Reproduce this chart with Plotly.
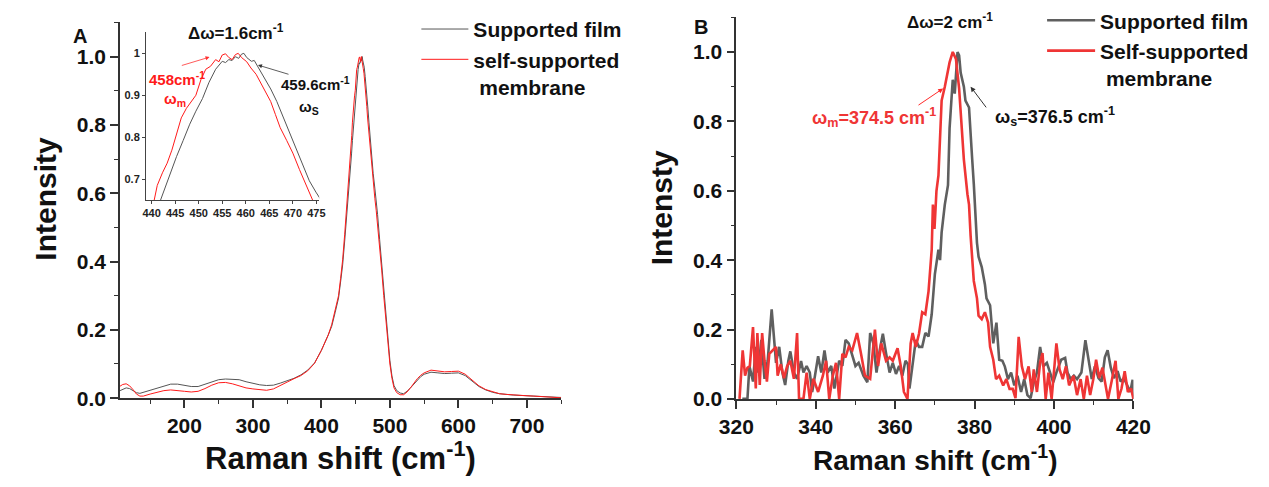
import plotly.graph_objects as go

W, H = 1269, 487

# ---------------- Panel A data (Raman spectra, full range) ----------------
a_sup_x = [106, 110, 115, 120, 125, 130, 135, 140, 150, 160, 170, 180, 190, 200, 210, 220, 230, 240,
           250, 260, 270, 280, 290, 300, 310, 320, 330, 340, 350, 360, 370, 380, 390, 400, 410, 415,
           420, 425, 428, 431, 434, 437, 440, 441.9, 443.0, 444.0, 445.3, 446.7, 448.1, 449.4, 450.8,
           452.2, 453.6, 455.0, 455.7, 456.4, 457.1, 457.8, 458.5, 459.1, 459.6, 460.2, 461.2, 461.8,
           462.5, 463.9, 465.3, 466.6, 468.0, 469.4, 470.8, 472.1, 473.5, 474.9, 475.6, 478, 480, 482,
           485, 488, 491, 494, 497, 500, 503, 506, 510, 515, 520, 525, 530, 535, 540, 545, 550, 560,
           570, 580, 590, 600, 610, 620, 630, 640, 650, 660, 670, 680, 690, 700, 710, 720, 730, 740, 750]
a_sup_y = [0.022, 0.026, 0.030, 0.028, 0.022, 0.016, 0.014, 0.017, 0.024, 0.031, 0.037, 0.041, 0.041,
           0.037, 0.034, 0.034, 0.040, 0.048, 0.054, 0.056, 0.055, 0.054, 0.048, 0.043, 0.039, 0.037,
           0.038, 0.044, 0.050, 0.058, 0.068, 0.082, 0.103, 0.140, 0.185, 0.210, 0.250, 0.293, 0.340,
           0.390, 0.460, 0.530, 0.600, 0.650, 0.685, 0.715, 0.754, 0.792, 0.831, 0.862, 0.892, 0.931,
           0.962, 0.981, 0.978, 0.985, 0.983, 0.992, 0.988, 0.998, 1.000, 0.990, 0.981, 0.983, 0.969,
           0.942, 0.915, 0.885, 0.846, 0.808, 0.769, 0.731, 0.696, 0.669, 0.658, 0.615, 0.578, 0.538,
           0.465, 0.390, 0.315, 0.240, 0.170, 0.110, 0.065, 0.037, 0.022, 0.015, 0.013, 0.020, 0.030,
           0.042, 0.053, 0.063, 0.070, 0.076, 0.074, 0.072, 0.073, 0.074, 0.066, 0.050, 0.034, 0.024,
           0.017, 0.013, 0.010, 0.009, 0.008, 0.007, 0.006, 0.005, 0.004, 0.003, 0.002]

a_mem_x = [106, 110, 115, 120, 125, 130, 135, 140, 150, 160, 170, 180, 190, 200, 210, 220, 230, 240,
           250, 260, 270, 280, 290, 300, 310, 320, 330, 340, 350, 360, 370, 380, 390, 400, 410, 415,
           420, 425, 428, 431, 434, 437, 440, 440.55, 441.2, 442.3, 443.3, 444.3, 445.3, 446.3, 447.4,
           448.4, 449.4, 450.5, 451.5, 452.5, 453.6, 454.3, 455.0, 455.7, 456.4, 457.1, 457.8, 458.4,
           459.1, 460.2, 461.1, 462.2, 463.2, 464.2, 465.3, 466.3, 467.3, 468.7, 470.0, 471.4, 472.8,
           474.2, 475.5, 478, 480, 482, 485, 488, 491, 494, 497, 500, 503, 506, 510, 515, 520, 525,
           530, 535, 540, 545, 550, 560, 570, 580, 590, 600, 610, 620, 630, 640, 650, 660, 670, 680,
           690, 700, 710, 720, 730, 740, 750]
a_mem_y = [0.035, 0.040, 0.042, 0.036, 0.025, 0.012, 0.006, 0.006, 0.012, 0.018, 0.022, 0.024, 0.023,
           0.020, 0.018, 0.020, 0.028, 0.038, 0.045, 0.046, 0.042, 0.036, 0.030, 0.027, 0.024, 0.023,
           0.027, 0.036, 0.047, 0.057, 0.066, 0.080, 0.102, 0.140, 0.185, 0.215, 0.255, 0.300, 0.350,
           0.405, 0.480, 0.560, 0.640, 0.650, 0.685, 0.715, 0.738, 0.769, 0.808, 0.846, 0.869, 0.885,
           0.900, 0.938, 0.962, 0.969, 0.985, 0.980, 0.996, 0.999, 0.990, 0.985, 0.997, 1.000, 0.990,
           0.980, 0.965, 0.950, 0.930, 0.908, 0.885, 0.854, 0.823, 0.792, 0.762, 0.723, 0.685, 0.650,
           0.625, 0.585, 0.550, 0.510, 0.445, 0.375, 0.300, 0.230, 0.160, 0.100, 0.058, 0.030, 0.016,
           0.010, 0.010, 0.018, 0.030, 0.045, 0.057, 0.067, 0.074, 0.082, 0.079, 0.077, 0.078, 0.079,
           0.070, 0.053, 0.036, 0.025, 0.018, 0.013, 0.011, 0.009, 0.009, 0.007, 0.006, 0.005, 0.004,
           0.003, 0.001]

# ---------------- Panel B data ----------------
b_sup_x = [321.5, 322.8, 323.3, 324.2, 324.9, 325.5, 326.3, 327.1, 327.9, 328.9, 329.6, 330.0, 330.8,
           331.6, 332.3, 333.1, 333.6, 334.5, 335.3, 336.3, 336.9, 337.7, 338.5, 339.1, 339.8, 340.6,
           341.4, 342.2, 343.0, 343.9, 344.7, 345.3, 345.9, 346.7, 347.5, 348.3, 349.2, 350.0, 350.8,
           352.0, 353.0, 353.7, 354.5, 355.3, 356.1, 356.9, 357.7, 358.6, 359.4, 360.2, 361.0, 361.8,
           362.6, 363.2, 363.6, 364.4, 365.2, 366.0, 366.8, 367.6, 368.4, 369.2, 369.6, 370.0, 370.9,
           371.3, 371.7, 372.5, 373.3, 373.7, 374.1, 374.5, 375.0, 375.7, 376.1, 376.5, 377.3, 377.7,
           378.6, 379.0, 379.4, 379.8, 380.2, 380.6, 381.0, 381.8, 382.6, 383.0, 383.9, 384.7, 385.5,
           386.2, 387.0, 387.6, 388.4, 389.2, 390.0, 390.8, 391.7, 392.5, 393.3, 394.1, 394.9, 395.7,
           396.5, 397.3, 398.2, 399.0, 399.8, 400.6, 401.8, 402.8, 403.4, 404.2, 405.0, 405.8, 406.9,
           407.9, 408.7, 409.5, 410.3, 411.2, 412.0, 412.8, 413.5, 414.3, 415.1, 416.0, 416.8, 417.6,
           418.4, 419.2, 419.8, 420.0]
b_sup_y = [0.000, 0.000, 0.095, 0.050, 0.150, 0.076, 0.170, 0.058, 0.110, 0.258, 0.160, 0.104, 0.150,
           0.076, 0.040, 0.110, 0.137, 0.076, 0.058, 0.109, 0.076, 0.095, 0.076, 0.020, 0.067, 0.123,
           0.076, 0.140, 0.076, 0.095, 0.030, 0.076, 0.110, 0.095, 0.170, 0.160, 0.123, 0.095, 0.104,
           0.067, 0.048, 0.190, 0.160, 0.076, 0.140, 0.188, 0.132, 0.076, 0.104, 0.072, 0.095, 0.067,
           0.110, 0.100, 0.030, 0.100, 0.170, 0.150, 0.150, 0.190, 0.180, 0.244, 0.300, 0.360, 0.430,
           0.400, 0.480, 0.560, 0.616, 0.780, 0.850, 0.920, 0.880, 1.000, 0.990, 0.940, 0.900, 0.860,
           0.840, 0.750, 0.690, 0.620, 0.520, 0.450, 0.410, 0.380, 0.330, 0.290, 0.270, 0.160, 0.220,
           0.113, 0.110, 0.094, 0.057, 0.076, 0.039, 0.067, 0.020, 0.057, 0.011, 0.002, 0.048, 0.076,
           0.150, 0.094, 0.104, 0.076, 0.048, 0.076, 0.113, 0.118, 0.076, 0.057, 0.067, 0.057, 0.076,
           0.169, 0.113, 0.057, 0.094, 0.060, 0.050, 0.120, 0.140, 0.090, 0.060, 0.080, 0.050, 0.060,
           0.040, 0.020, 0.055, 0.000]

b_mem_x = [320.8, 321.6, 322.2, 322.8, 323.4, 324.2, 324.9, 325.3, 325.9, 326.5, 327.1, 327.7, 328.3,
           329.2, 330.0, 330.4, 331.2, 332.0, 332.8, 333.6, 334.5, 335.3, 335.8, 336.9, 337.7, 338.5,
           339.4, 340.6, 341.8, 342.6, 343.4, 344.3, 345.1, 345.9, 346.7, 347.5, 348.3, 349.2, 350.4,
           351.4, 352.4, 353.7, 354.9, 355.7, 356.5, 357.7, 358.6, 359.4, 360.6, 361.4, 362.2, 363.1,
           363.9, 364.4, 365.2, 366.0, 366.8, 367.6, 368.4, 369.2, 369.5, 369.9, 370.4, 370.9, 371.3,
           371.7, 372.5, 373.7, 374.5, 375.3, 376.1, 376.5, 377.3, 378.2, 378.6, 379.0, 379.4, 379.8,
           380.6, 381.0, 381.8, 382.6, 383.4, 383.9, 384.7, 385.4, 386.2, 387.2, 388.0, 388.8, 389.6,
           390.3, 391.1, 391.9, 392.7, 393.6, 394.4, 394.9, 395.7, 396.5, 397.1, 397.9, 398.6, 399.4,
           400.6, 401.4, 402.2, 403.0, 403.8, 404.9, 405.8, 406.7, 407.5, 408.3, 409.1, 409.9, 410.6,
           411.4, 412.2, 413.0, 413.6, 414.5, 415.5, 416.2, 417.0, 417.8, 418.6, 419.4, 420.0]
b_mem_y = [0.000, 0.140, 0.067, 0.090, 0.095, 0.207, 0.030, 0.190, 0.040, 0.190, 0.110, 0.050, 0.130,
           0.140, 0.150, 0.067, 0.100, 0.060, 0.095, 0.110, 0.058, 0.190, 0.000, 0.000, 0.076, 0.000,
           0.058, 0.020, 0.067, 0.110, 0.000, 0.067, 0.104, 0.000, 0.130, 0.120, 0.150, 0.140, 0.190,
           0.130, 0.067, 0.058, 0.200, 0.095, 0.160, 0.110, 0.120, 0.110, 0.146, 0.095, 0.020, 0.000,
           0.160, 0.190, 0.150, 0.188, 0.250, 0.244, 0.310, 0.430, 0.560, 0.490, 0.600, 0.644, 0.775,
           0.860, 0.900, 0.970, 1.000, 0.980, 0.895, 0.820, 0.690, 0.590, 0.560, 0.470, 0.410, 0.340,
           0.290, 0.240, 0.230, 0.250, 0.220, 0.150, 0.113, 0.057, 0.067, 0.039, 0.057, 0.029, 0.029,
           0.002, 0.179, 0.094, 0.057, 0.094, 0.020, 0.085, 0.020, 0.104, 0.132, 0.000, 0.076, 0.000,
           0.160, 0.085, 0.057, 0.094, 0.039, 0.067, 0.011, 0.057, 0.000, 0.067, 0.011, 0.057, 0.113,
           0.060, 0.090, 0.040, 0.000, 0.050, 0.110, 0.000, 0.030, 0.080, 0.020, 0.030, 0.000]

series_names_a = ["Supported film", "self-supported<br>\u00a0membrane"]
series_names_b = ["Supported film", "Self-supported<br>\u00a0membrane"]

GRAY_A, RED_A = "#555555", "#ff1a1a"
GRAY_B, RED_B = "#5f5f5f", "#ef3535"
FONT = "Liberation Sans, Arial, sans-serif"


def px(xp):
    return xp / W


def py(yp):
    return 1 - yp / H


fig = go.Figure()

# Panel A main
fig.add_trace(go.Scatter(x=a_sup_x, y=a_sup_y, mode="lines", name=series_names_a[0],
                         line=dict(color=GRAY_A, width=1), xaxis="x", yaxis="y", legend="legend"))
fig.add_trace(go.Scatter(x=a_mem_x, y=a_mem_y, mode="lines", name=series_names_a[1],
                         line=dict(color=RED_A, width=1), xaxis="x", yaxis="y", legend="legend"))
# Inset
fig.add_trace(go.Scatter(x=a_sup_x, y=a_sup_y, mode="lines", showlegend=False,
                         line=dict(color=GRAY_A, width=1), xaxis="x3", yaxis="y3"))
fig.add_trace(go.Scatter(x=a_mem_x, y=a_mem_y, mode="lines", showlegend=False,
                         line=dict(color=RED_A, width=1), xaxis="x3", yaxis="y3"))
# Panel B
fig.add_trace(go.Scatter(x=b_sup_x, y=b_sup_y, mode="lines", name=series_names_b[0],
                         line=dict(color=GRAY_B, width=2.6), xaxis="x2", yaxis="y2", legend="legend2"))
fig.add_trace(go.Scatter(x=b_mem_x, y=b_mem_y, mode="lines", name=series_names_b[1],
                         line=dict(color=RED_B, width=2.6), xaxis="x2", yaxis="y2", legend="legend2"))

tickfont = dict(family=FONT, size=21, color="#111111", weight="bold")
axis_common = dict(showline=True, linecolor="#333333", linewidth=1.6, ticks="outside", ticklen=8,
                   tickwidth=1.6, tickcolor="#333333", showgrid=False, zeroline=False,
                   tickfont=tickfont, mirror=False)
minor_style = dict(ticks="outside", ticklen=4, tickwidth=1.4, tickcolor="#333333")

fig.update_layout(
    width=W, height=H, margin=dict(l=0, r=0, t=0, b=0),
    paper_bgcolor="white", plot_bgcolor="rgba(0,0,0,0)",
    font=dict(family=FONT, color="#111111"),
    xaxis=dict(domain=[px(105), px(559)], range=[106, 750], dtick=100, tick0=0, anchor="y",
               minor=dict(dtick=50, **minor_style), **axis_common),
    yaxis=dict(domain=[py(406.5), py(18)], range=[0, 1.1], dtick=0.2, tickformat=".1f", anchor="x",
               minor=dict(dtick=0.1, **minor_style), **axis_common),
    xaxis2=dict(domain=[px(739.3), px(1148)], range=[320, 420], dtick=20, anchor="y2",
                minor=dict(dtick=10, **minor_style), **axis_common),
    yaxis2=dict(domain=[py(407.3), py(12.7)], range=[0, 1.1], dtick=0.2, tickformat=".1f", anchor="x2",
                minor=dict(dtick=0.1, **minor_style), **axis_common),
    xaxis3=dict(domain=[px(131.7), px(310)], range=[438.8, 475.6], dtick=5, anchor="y3",
                showline=True, linecolor="#444444", linewidth=1, ticks="outside", ticklen=3,
                tickwidth=1, tickcolor="#444444", showgrid=False, zeroline=False,
                tickfont=dict(family=FONT, size=11, color="#222222", weight="bold")),
    yaxis3=dict(domain=[py(201.7), py(28.3)], range=[0.65, 1.05], tickvals=[0.7, 0.8, 0.9, 1.0],
                ticktext=["0.7", "0.8", "0.9", "1"], anchor="x3",
                showline=True, linecolor="#444444", linewidth=1, ticks="outside", ticklen=3,
                tickwidth=1, tickcolor="#444444", showgrid=False, zeroline=False,
                tickfont=dict(family=FONT, size=11, color="#222222", weight="bold")),
    legend=dict(x=px(410), y=py(4), xanchor="left", yanchor="top", bgcolor="rgba(0,0,0,0)",
                font=dict(family=FONT, size=21, color="#111111", weight="bold"),
                itemwidth=47, tracegroupgap=0, valign="top"),
    legend2=dict(x=px(1054), y=py(-5), xanchor="left", yanchor="top", bgcolor="rgba(0,0,0,0)",
                 font=dict(family=FONT, size=21, color="#111111", weight="bold"),
                 itemwidth=48, tracegroupgap=0, valign="top"),
    showlegend=True,
)


def txt(x, y, s, size, color="#111111", xanchor="left", yanchor="middle", angle=0, bold=True):
    fig.add_annotation(x=px(x), y=py(y), xref="paper", yref="paper", text=s, showarrow=False,
                       xanchor=xanchor, yanchor=yanchor, textangle=angle,
                       font=dict(family=FONT, size=size, color=color, weight="bold" if bold else "normal"))


# axis titles
txt(332, 466, "Raman shift (cm<sup>-1</sup>)", 31, xanchor="center")
txt(944, 468, "Raman shift (cm<sup>-1</sup>)", 28, xanchor="center")
txt(28, 200, "Intensity", 30, xanchor="center", angle=-90)
txt(662, 210, "Intensty", 30, xanchor="center", angle=-90)

# panel letters
txt(64, 32, "A", 20, xanchor="center")
txt(703, 23, "B", 20, xanchor="center")

# panel A (inset) annotations
txt(173, 28, "\u0394\u03c9=1.6cm<sup>-1</sup>", 17)
txt(133, 76, "458cm<sup>-1</sup>", 15, color="#ff1a1a")
txt(148, 98, "\u03c9<sub>m</sub>", 15, color="#ff1a1a")
txt(269, 81, "459.6cm<sup>-1</sup>", 15)
txt(287, 106, "\u03c9<sub>S</sub>", 15)

# panel B annotations
txt(913, 17, "\u0394\u03c9=2 cm<sup>-1</sup>", 17)
txt(815, 116, "\u03c9<sub>m</sub>=374.5 cm<sup>-1</sup>", 18, color="#ef3535")
txt(1003, 115, "\u03c9<sub>s</sub>=376.5 cm<sup>-1</sup>", 18)

# arrows
fig.add_annotation(x=452.3, y=0.991, ax=446.1, ay=0.97, xref="x3", yref="y3", axref="x3", ayref="y3",
                   text="", showarrow=True, arrowhead=2, arrowsize=1, arrowwidth=0.8, arrowcolor="#ff3030")
fig.add_annotation(x=462.6, y=0.972, ax=469.4, ay=0.949, xref="x3", yref="y3", axref="x3", ayref="y3",
                   text="", showarrow=True, arrowhead=2, arrowsize=1, arrowwidth=0.8, arrowcolor="#333333")
fig.add_annotation(x=372.1, y=0.895, ax=365.5, ay=0.844, xref="x2", yref="y2", axref="x2", ayref="y2",
                   text="", showarrow=True, arrowhead=2, arrowsize=1, arrowwidth=1, arrowcolor="#ff2a2a")
fig.add_annotation(x=379.0, y=0.900, ax=383.2, ay=0.836, xref="x2", yref="y2", axref="x2", ayref="y2",
                   text="", showarrow=True, arrowhead=2, arrowsize=1, arrowwidth=1, arrowcolor="#333333")

fig.write_html("out.html", config={"displayModeBar": False},
               post_script="document.body.style.margin='0px';")
